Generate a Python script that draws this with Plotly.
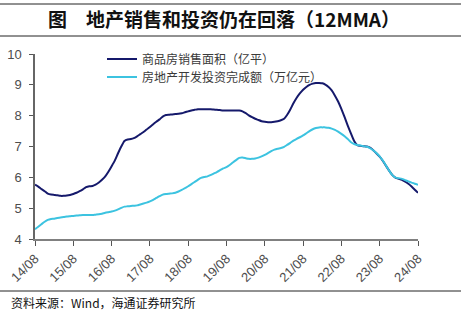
import pandas as pd
import plotly.graph_objects as go

# Monthly 12MMA series, Aug 2014 .. Aug 2024
months = pd.date_range("2014-08-01", periods=121, freq="MS")

sales_area = [
    5.76, 5.70, 5.62, 5.55, 5.47, 5.44, 5.43, 5.42, 5.40, 5.40, 5.41, 5.43,
    5.46, 5.50, 5.55, 5.61, 5.68, 5.71, 5.72, 5.76, 5.83, 5.92, 6.03, 6.18,
    6.36, 6.55, 6.78, 7.00, 7.18, 7.23, 7.24, 7.27, 7.33, 7.40, 7.47, 7.55,
    7.63, 7.72, 7.80, 7.88, 7.97, 8.02, 8.03, 8.04, 8.05, 8.06, 8.08, 8.11,
    8.14, 8.17, 8.19, 8.21, 8.21, 8.21, 8.21, 8.21, 8.20, 8.19, 8.18, 8.17,
    8.17, 8.17, 8.17, 8.17, 8.17, 8.14, 8.08, 8.01, 7.95, 7.90, 7.86, 7.82,
    7.80, 7.79, 7.79, 7.80, 7.82, 7.85, 7.90, 8.02, 8.20, 8.40, 8.58, 8.72,
    8.84, 8.93, 9.00, 9.04, 9.06, 9.06, 9.05, 9.01, 8.93, 8.82, 8.65, 8.46,
    8.22, 7.95, 7.68, 7.42, 7.18, 7.04, 7.02, 7.01, 7.00, 6.96, 6.88, 6.78,
    6.67, 6.53, 6.37, 6.21, 6.07, 5.98, 5.95, 5.92, 5.86, 5.79, 5.70, 5.60,
    5.50,
]

investment = [
    4.32, 4.40, 4.48, 4.56, 4.62, 4.65, 4.66, 4.68, 4.70, 4.71, 4.73, 4.74,
    4.75, 4.76, 4.77, 4.78, 4.78, 4.78, 4.78, 4.79, 4.80, 4.82, 4.85, 4.87,
    4.89, 4.92, 4.96, 5.01, 5.05, 5.06, 5.07, 5.08, 5.09, 5.12, 5.15, 5.18,
    5.22, 5.27, 5.33, 5.39, 5.44, 5.46, 5.47, 5.48, 5.50, 5.54, 5.59, 5.65,
    5.71, 5.78, 5.85, 5.92, 5.98, 6.01, 6.03, 6.07, 6.12, 6.17, 6.23, 6.29,
    6.33, 6.40, 6.48, 6.56, 6.63, 6.64, 6.62, 6.60, 6.60, 6.61, 6.64, 6.68,
    6.73, 6.79, 6.85, 6.90, 6.93, 6.95, 6.99, 7.05, 7.12, 7.19, 7.25, 7.30,
    7.36, 7.43, 7.50, 7.56, 7.60, 7.62, 7.62, 7.62, 7.61, 7.58, 7.54, 7.48,
    7.41, 7.33, 7.24, 7.14, 7.08, 7.05, 7.03, 7.01, 6.99, 6.95, 6.88, 6.79,
    6.68, 6.54, 6.38, 6.21, 6.07, 5.99, 5.97, 5.95, 5.91, 5.87, 5.83, 5.79,
    5.76,
]

tick_dates = pd.date_range("2014-08-01", periods=11, freq="12MS")
tick_labels = ["14/08", "15/08", "16/08", "17/08", "18/08", "19/08",
               "20/08", "21/08", "22/08", "23/08", "24/08"]

W, H = 465, 321
ML, MR, MT, MB = 35, 47, 54, 82
PW, PH = W - ML - MR, H - MT - MB


def px_x(px):
    return (px - ML) / PW


def px_y(py):
    return (H - MB - py) / PH


fig = go.Figure()
fig.add_trace(go.Scatter(
    x=months, y=sales_area, mode="lines", name="商品房销售面积（亿平）",
    line=dict(color="#15196b", width=2, shape="spline", smoothing=0.6),
    legend="legend",
))
fig.add_trace(go.Scatter(
    x=months, y=investment, mode="lines", name="房地产开发投资完成额（万亿元）",
    line=dict(color="#3cc3e0", width=2, shape="spline", smoothing=0.6),
    legend="legend2",
))

tick_font = dict(family="Liberation Sans, Arial, sans-serif", size=13, color="#4d4d4d")

fig.update_xaxes(
    range=[months[0], months[-1]], automargin=False,
    tickmode="array", tickvals=tick_dates, ticktext=tick_labels,
    tickangle=-45, tickfont=tick_font,
    ticks="outside", ticklen=5, tickcolor="#555555", tickwidth=1,
    showline=True, linecolor="#808080", linewidth=2,
    showgrid=False, zeroline=False,
)
fig.update_yaxes(
    range=[4, 10], automargin=False,
    tickmode="array", tickvals=[4, 5, 6, 7, 8, 9, 10],
    tickfont=tick_font, ticklabelstandoff=5,
    ticks="outside", ticklen=4, tickcolor="#555555", tickwidth=1,
    showline=True, linecolor="#666666", linewidth=1.5,
    showgrid=False, zeroline=False,
)

legend_font = dict(family="Noto Sans CJK SC", size=12, color="#3a3a3a")

fig.update_layout(
    width=W, height=H,
    margin=dict(l=ML, r=MR, t=MT, b=MB),
    paper_bgcolor="white", plot_bgcolor="white",
    showlegend=True,
    legend=dict(
        x=px_x(102), y=px_y(59), xanchor="left", yanchor="middle",
        bgcolor="rgba(0,0,0,0)", font=legend_font,
    ),
    legend2=dict(
        x=px_x(102), y=px_y(77), xanchor="left", yanchor="middle",
        bgcolor="rgba(0,0,0,0)", font=legend_font,
    ),
    annotations=[
        dict(text="<b>图　地产销售和投资仍在回落（12MMA）</b>",
             xref="paper", yref="paper", x=px_x(224), y=px_y(18),
             xanchor="center", yanchor="middle", showarrow=False,
             font=dict(family="Noto Sans CJK SC", size=19, color="#111111")),
        dict(text="资料来源：Wind，海通证券研究所",
             xref="paper", yref="paper", x=px_x(9), y=px_y(302),
             xanchor="left", yanchor="middle", showarrow=False,
             font=dict(family="Noto Sans CJK SC", size=12, color="#111111")),
    ],
    shapes=[
        dict(type="line", xref="paper", yref="paper",
             x0=px_x(0), x1=px_x(461), y0=px_y(4), y1=px_y(4),
             line=dict(color="#222222", width=1)),
        dict(type="line", xref="paper", yref="paper",
             x0=px_x(0), x1=px_x(461), y0=px_y(36), y1=px_y(36),
             line=dict(color="#222222", width=1)),
        dict(type="line", xref="paper", yref="paper",
             x0=px_x(0), x1=px_x(461), y0=px_y(291), y1=px_y(291),
             line=dict(color="#222222", width=1)),
    ],
)

fig.write_html("out.html")
